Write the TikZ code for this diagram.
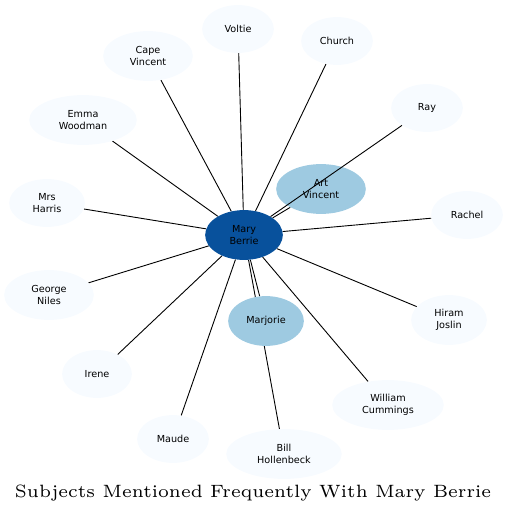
\documentclass[tikz,border=0pt]{standalone}
\usepackage{fontspec}
\usetikzlibrary{shapes.geometric}
\newfontfamily\labelfont{DejaVu Sans}
\definecolor{hubblue}{HTML}{08519C}
\definecolor{midblue}{HTML}{9ECAE1}
\definecolor{paleblue}{HTML}{F7FBFF}
\pgfdeclarelayer{background}
\pgfsetlayers{background,main}
\begin{document}
\begin{tikzpicture}[x=1bp, y=-1bp,
    subj/.style={ellipse, fill=paleblue, inner sep=0pt, align=center, font=\labelfont\fontsize{9.7}{11.6}\selectfont},
    link/.style={black, line width=0.9bp}]
        \useasboundingbox (0,0) rectangle (508,515);
        % Center and strong subjects
        \node[subj, fill=hubblue, minimum width=78, minimum height=50] (mary) at (244,235) {Mary\\Berrie};
        \node[subj, fill=midblue, minimum width=90, minimum height=50] (artv) at (321,189) {Art\\Vincent};
        \node[subj, fill=midblue, minimum width=76, minimum height=50] (marjorie) at (266,321) {Marjorie};
        
        % Other subjects
        \node[subj, minimum width=72, minimum height=48] (voltie) at (238,29) {Voltie};
        \node[subj, minimum width=72, minimum height=48] (church) at (337,41) {Church};
        \node[subj, minimum width=90, minimum height=50] (capev) at (148,56) {Cape\\Vincent};
        \node[subj, minimum width=72, minimum height=48] (ray) at (427,108) {Ray};
        \node[subj, minimum width=108, minimum height=50] (emma) at (83,120) {Emma\\Woodman};
        \node[subj, minimum width=76, minimum height=48] (harris) at (47,203) {Mrs\\Harris};
        \node[subj, minimum width=72, minimum height=48] (rachel) at (467,215) {Rachel};
        \node[subj, minimum width=90, minimum height=50] (george) at (49,295) {George\\Niles};
        \node[subj, minimum width=76, minimum height=50] (hiram) at (449,320) {Hiram\\Joslin};
        \node[subj, minimum width=70, minimum height=48] (irene) at (97,374) {Irene};
        \node[subj, minimum width=112, minimum height=50] (william) at (388,405) {William\\Cummings};
        \node[subj, minimum width=72, minimum height=48] (maude) at (173,439) {Maude};
        \node[subj, minimum width=116, minimum height=50] (bill) at (284,454) {Bill\\Hollenbeck};
        
        % Links
        \begin{pgfonlayer}{background}
        \foreach \other in {artv, marjorie, voltie, church, capev, emma, harris, rachel, george, hiram, irene, william, maude, bill}
            \draw[link] (mary) -- (\other);
        \end{pgfonlayer}
        \draw[link] (mary) -- (ray);
        
        % Title
        \node[font=\fontsize{6}{7}\selectfont, scale=2.98] (title) at (253,493) {Subjects Mentioned Frequently With Mary Berrie};
    \end{tikzpicture}
\end{document}
